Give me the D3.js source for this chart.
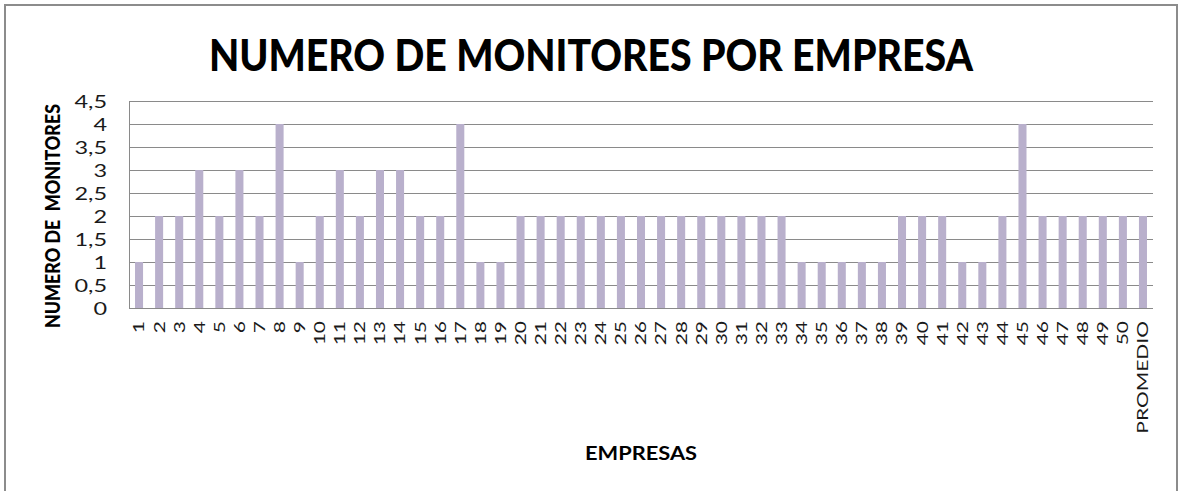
<!DOCTYPE html>
<html>
<head>
<meta charset="utf-8">
<script src="https://cdn.jsdelivr.net/npm/d3@7"></script>
<style>
  html, body { margin: 0; padding: 0; background: #fff; }
  svg { display: block; }
</style>
</head>
<body>
<svg id="chart" width="1179" height="491"></svg>
<script>
const categories = ["1","2","3","4","5","6","7","8","9","10","11","12","13","14","15","16","17","18","19","20",
  "21","22","23","24","25","26","27","28","29","30","31","32","33","34","35","36","37","38","39","40",
  "41","42","43","44","45","46","47","48","49","50","PROMEDIO"];
const values = [1,2,2,3,2,3,2,4,1,2,3,2,3,3,2,2,4,1,1,2,
  2,2,2,2,2,2,2,2,2,2,2,2,2,1,1,1,1,1,2,2,
  2,1,1,2,4,2,2,2,2,2,2];
const yTicks = [0,0.5,1,1.5,2,2.5,3,3.5,4,4.5];
const titleText = "NUMERO DE MONITORES POR EMPRESA";
const yTitleText = "NUMERO DE  MONITORES";
const xTitleText = "EMPRESAS";

const svg = d3.select("#chart");
const W = 1179, H = 491;
const plot = {left: 129, right: 1153, top: 101, bottom: 308};
const FONT = "Lato, 'Open Sans', sans-serif";

function stretch(sel, factor) {
  sel.each(function() {
    const w = this.getComputedTextLength();
    d3.select(this).attr("textLength", w * factor).attr("lengthAdjust", "spacingAndGlyphs");
  });
}

// frame
svg.append("rect").attr("x", 0).attr("y", 0).attr("width", W).attr("height", H).attr("fill", "#fff");
svg.append("rect").attr("x", 5).attr("y", 5).attr("width", 1172).attr("height", 500)
  .attr("fill", "none").attr("stroke", "#8c8c8c").attr("stroke-width", 2);

const x = d3.scaleBand().domain(categories).range([plot.left, plot.right])
  .paddingInner(0.6).paddingOuter(0.3);
const y = d3.scaleLinear().domain([0, 4.5]).range([plot.bottom, plot.top]);

// gridlines
svg.append("g").selectAll("line").data(yTicks).join("line")
  .attr("x1", plot.left).attr("x2", plot.right)
  .attr("y1", d => Math.round(y(d)) + 0.5).attr("y2", d => Math.round(y(d)) + 0.5)
  .attr("stroke", "#8a8a8a").attr("stroke-width", 1);

// bars
svg.append("g").selectAll("rect").data(values).join("rect")
  .attr("x", (d, i) => x(categories[i]))
  .attr("width", x.bandwidth())
  .attr("y", d => y(d))
  .attr("height", d => y(0) - y(d))
  .attr("fill", "#b9b0cc");

// axis lines
svg.append("line").attr("x1", plot.left + 0.5).attr("x2", plot.left + 0.5)
  .attr("y1", plot.top).attr("y2", plot.bottom + 0.5).attr("stroke", "#8a8a8a");
svg.append("line").attr("x1", plot.left).attr("x2", plot.right)
  .attr("y1", plot.bottom + 0.5).attr("y2", plot.bottom + 0.5).attr("stroke", "#8a8a8a");

// y axis via d3 axis
const fmt = d => String(d).replace(".", ",");
const yAxis = svg.append("g").attr("transform", `translate(${plot.left - 22},0)`)
  .call(d3.axisLeft(y).tickValues(yTicks).tickFormat(fmt).tickSize(0).tickPadding(0));
yAxis.select(".domain").remove();
yAxis.selectAll("text").attr("font-family", FONT).attr("font-size", 17).attr("fill", "#1a1a1a")
  .attr("dy", "0.36em").call(stretch, 1.38);

// x axis
const xAxis = svg.append("g").attr("transform", `translate(0,${plot.bottom})`)
  .call(d3.axisBottom(x).tickSize(0).tickPadding(0));
xAxis.select(".domain").remove();
xAxis.selectAll("text")
  .attr("font-family", FONT).attr("font-size", 15).attr("fill", "#1a1a1a")
  .attr("text-anchor", "end")
  .attr("transform", "rotate(-90)")
  .attr("x", -13).attr("y", 0).attr("dy", "0.36em")
  .call(stretch, 1.4);

// title
svg.append("text").attr("x", 591).attr("y", 71).attr("text-anchor", "middle")
  .attr("font-family", FONT).attr("font-weight", "900").attr("font-size", 43).attr("fill", "#000")
  .text(titleText).attr("textLength", 764).attr("lengthAdjust", "spacingAndGlyphs");

// y title
svg.append("text").attr("transform", "translate(60,216) rotate(-90)")
  .attr("text-anchor", "middle").attr("xml:space", "preserve")
  .attr("font-family", FONT).attr("font-weight", "900").attr("font-size", 20).attr("fill", "#000")
  .text(yTitleText).attr("textLength", 224).attr("lengthAdjust", "spacingAndGlyphs");

// x title
svg.append("text").attr("x", 641).attr("y", 460).attr("text-anchor", "middle")
  .attr("font-family", FONT).attr("font-weight", "bold").attr("font-size", 19).attr("fill", "#000")
  .text(xTitleText).attr("textLength", 112).attr("lengthAdjust", "spacingAndGlyphs");
</script>
</body>
</html>
